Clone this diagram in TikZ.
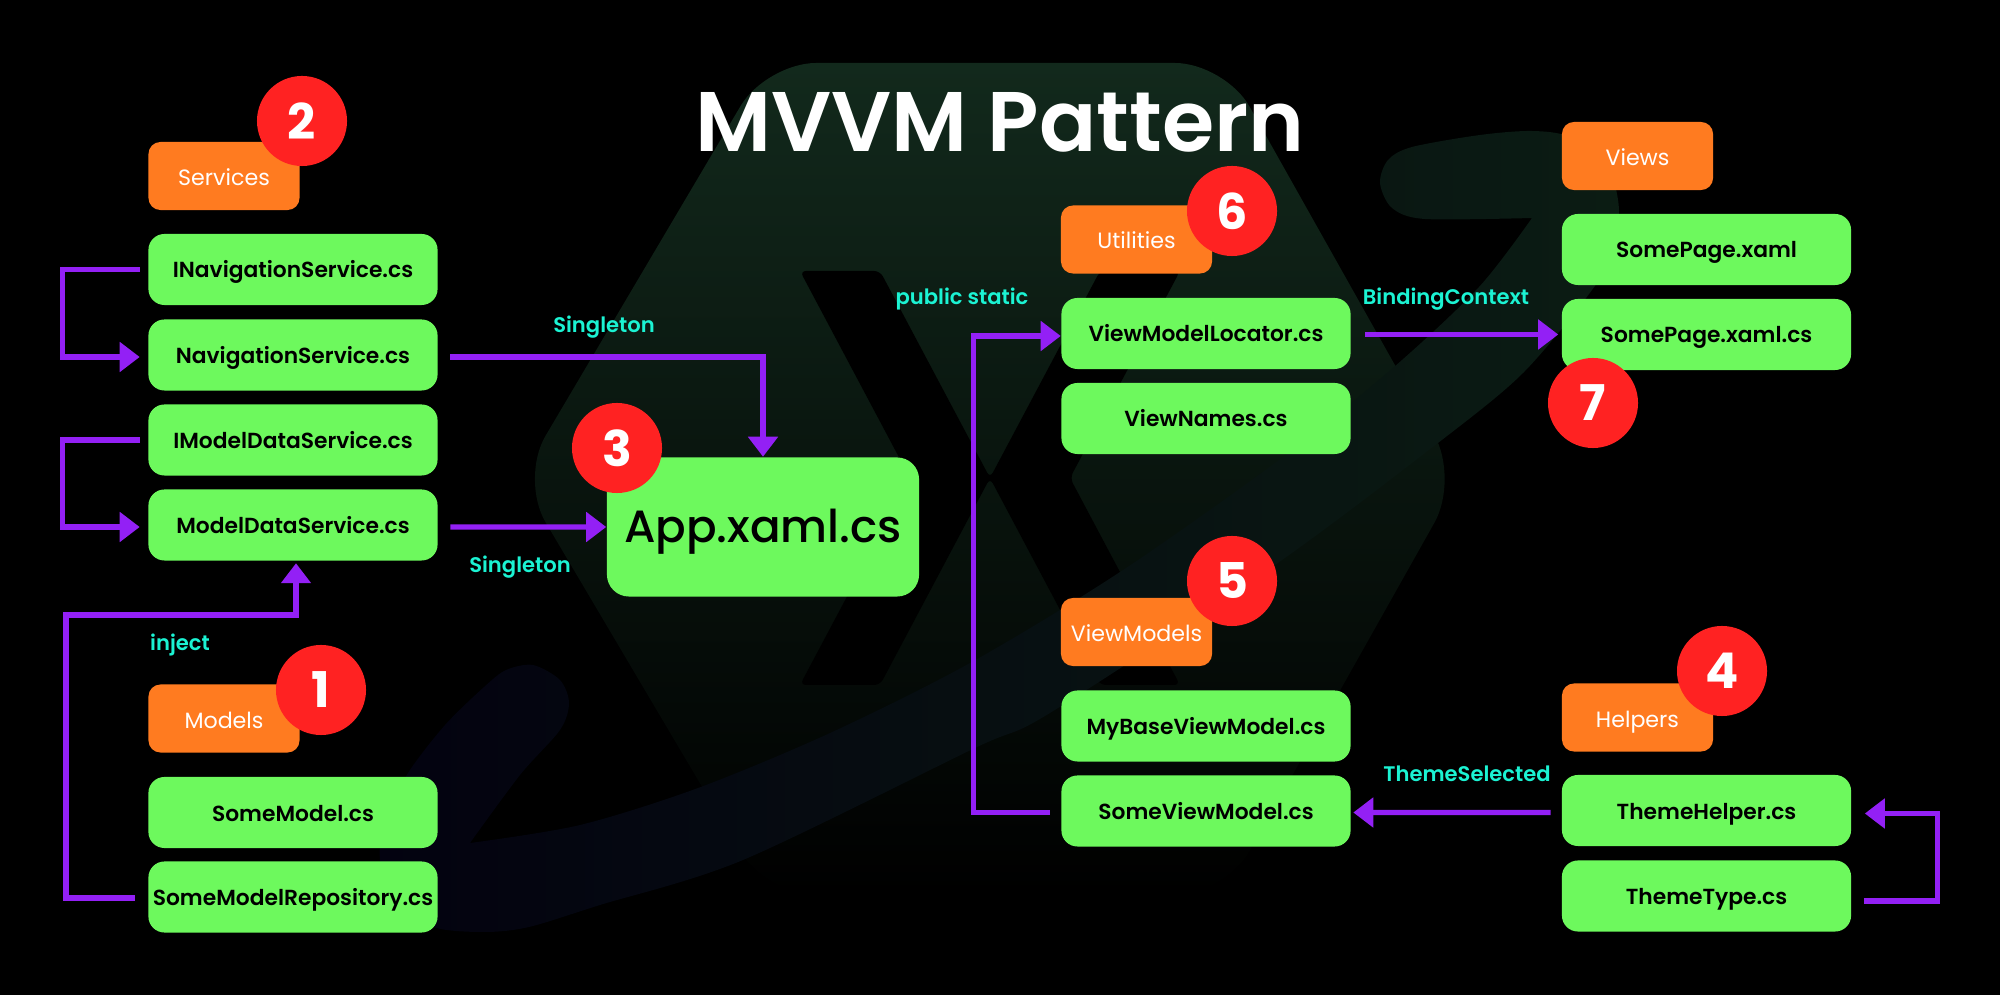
\documentclass[tikz,border=0pt]{standalone}
\usepackage{fontspec}
\usepackage{xcolor}
\usepackage{tikz}
\usetikzlibrary{arrows.meta, calc, shapes.geometric, positioning}
\setmainfont{Poppins}
\newfontfamily\medfont[UprightFont={* Medium}]{Poppins}
\newfontfamily\titlefont[UprightFont={* SemiBold}]{Poppins}

\definecolor{boxgreen}{HTML}{6DF95D}
\definecolor{boxorange}{HTML}{FF7B20}
\definecolor{badgered}{HTML}{FF2222}
\definecolor{flowpurple}{HTML}{9320F5}
\definecolor{tagcyan}{HTML}{1BF3D3}
\definecolor{logotop}{HTML}{12291C}
\definecolor{logomid}{HTML}{0A1A10}
\definecolor{swooshleft}{HTML}{030210}
\definecolor{swooshmid}{HTML}{10261A}
\definecolor{swooshright}{HTML}{0B1C13}

\tikzset{
    filebox/.style={fill=boxgreen, text=black, rounded corners=0.16cm, minimum width=2.89cm, minimum height=0.71cm,
        inner sep=0pt, text height=0.23cm, text depth=0.06cm, font=\titlefont\fontsize{6.2}{9}\selectfont},
    groupbox/.style={fill=boxorange, text=white, rounded corners=0.12cm, minimum width=1.51cm, minimum height=0.68cm,
        inner sep=0pt, text height=0.25cm, text depth=0.06cm, font=\fontsize{6.3}{9}\selectfont},
    badge/.style={circle, fill=badgered, text=white, minimum size=0.9cm, inner sep=0pt, font=\bfseries\fontsize{14}{16}\selectfont},
    tag/.style={text=tagcyan, inner sep=0pt, anchor=base, font=\titlefont\fontsize{6}{9}\selectfont},
    flow/.style={draw=flowpurple, line width=0.052cm, ->}
}

\begin{document}
\begin{tikzpicture}[>={Triangle[length=0.2cm, width=0.29cm]}, x=0.01cm, y=-0.01cm]
    \fill[black] (0,0) rectangle (2000,995);
    \useasboundingbox (0,0) rectangle (2000,995);

    % Logo behind the picture
    \shade[top color=logotop, middle color=logomid, bottom color=black, rounded corners=0.5cm]
        (766,63) -- (1225,63) -- (1459,479) -- (1225,895) -- (766,895) -- (520,479) -- cycle;
    \fill[black, rounded corners=0.06cm]
        (800,271) -- (880,271) -- (990,478) -- (1100,271) -- (1180,271) -- (1070,478)
        -- (1180,685) -- (1100,685) -- (990,478) -- (880,685) -- (800,685) -- (910,478) -- cycle;
    \shade[left color=swooshleft, middle color=swooshmid, right color=swooshright]
        (470,843) -- plot[smooth] coordinates {(470,843) (580,825) (698,788) (830,733) (970,663) (1120,572)
            (1283,457) (1394,367) (1479,287) (1532,218)}
        -- plot[smooth] coordinates {(1532,218) (1425,219) (1392,208) (1380,183) (1388,160) (1412,147) (1480,135)
            (1532,131) (1570,137) (1607,165) (1619,210) (1610,255) (1592,290) (1523,373) (1438,443) (1275,565)
            (1050,713) (975,748) (743,860) (600,905) (529,927) (484,932) (433,927) (395,900) (380,860) (385,820)
            (408,773) (445,725) (484,687) (506,670) (533,665) (560,680) (569,703) (560,730) (520,775) (470,843)}
        -- cycle;

    % Title
    \node[text=white, inner sep=0pt, anchor=base, font=\titlefont\fontsize{24.05}{28}\selectfont] (title) at (1000,152) {MVVM Pattern};

    % Services and models
    \node[groupbox] (services) at (224,176) {Services};
    \node[filebox] (inav) at (293,269.5) {INavigationService.cs};
    \node[filebox] (nav) at (293,355) {NavigationService.cs};
    \node[filebox] (imdata) at (293,440) {IModelDataService.cs};
    \node[filebox] (mdata) at (293,525) {ModelDataService.cs};
    \node[groupbox] (models) at (224,718.5) {Models};
    \node[filebox] (somemodel) at (293,812.5) {SomeModel.cs};
    \node[filebox] (repo) at (293,897) {SomeModelRepository.cs};

    % App
    \node[fill=boxgreen, text=black, rounded corners=0.22cm, minimum width=3.12cm, minimum height=1.39cm, inner sep=0pt,
        text height=0.4cm, text depth=0.1cm, font=\medfont\fontsize{12.85}{16}\selectfont] (app) at (763,527) {App.xaml.cs};

    % View models and utilities
    \node[groupbox] (utilities) at (1136.5,239.5) {Utilities};
    \node[filebox] (locator) at (1206,333.5) {ViewModelLocator.cs};
    \node[filebox] (viewnames) at (1206,418.5) {ViewNames.cs};
    \node[groupbox] (viewmodels) at (1136.5,632) {ViewModels};
    \node[filebox] (basevm) at (1206,726) {MyBaseViewModel.cs};
    \node[filebox] (somevm) at (1206,811) {SomeViewModel.cs};

    % Views and helpers
    \node[groupbox] (views) at (1637.5,156) {Views};
    \node[filebox] (page) at (1706.5,249.5) {SomePage.xaml};
    \node[filebox] (pagecs) at (1706.5,334.5) {SomePage.xaml.cs};
    \node[groupbox] (helpers) at (1637.5,717.5) {Helpers};
    \node[filebox] (thelper) at (1706.5,810.5) {ThemeHelper.cs};
    \node[filebox] (ttype) at (1706.5,896) {ThemeType.cs};

    % Numbers
    \node[badge] (one) at (321,690) {1};
    \node[badge] (two) at (302,121) {2};
    \node[badge] (three) at (617,448) {3};
    \node[badge] (four) at (1722,671) {4};
    \node[badge] (five) at (1232,581) {5};
    \node[badge] (six) at (1232,211) {6};
    \node[badge] (seven) at (1593,403) {7};

    % Connectors
    \coordinate (injectbend) at (66,615);
    \draw[flow, shorten <=0.08cm, shorten >=0.08cm] (inav.west) -- ++(-85,0) |- ([yshift=-0.02cm]nav.west);
    \draw[flow, shorten <=0.08cm, shorten >=0.08cm] (imdata.west) -- ++(-85,0) |- ([yshift=-0.02cm]mdata.west);
    \draw[flow, shorten <=0.13cm, shorten >=0.02cm] ([yshift=-0.01cm]repo.west) -| (injectbend) -| ([xshift=0.03cm]mdata.south);
    \draw[flow, shorten <=0.12cm] ([yshift=-0.02cm]nav.east) -| (app.north);
    \draw[flow, shorten <=0.12cm] ([yshift=-0.02cm]mdata.east) -- (app.west);
    \draw[flow, shorten <=0.11cm] ([yshift=-0.015cm]somevm.west) -- ++(-87,0) |- ([yshift=-0.025cm]locator.west);
    \draw[flow, shorten <=0.14cm, shorten >=0.03cm] ([yshift=-0.01cm]locator.east) -- (pagecs.west);
    \draw[flow, shorten <=0.105cm, shorten >=0.02cm] ([yshift=-0.02cm]thelper.west) -- ([yshift=-0.015cm]somevm.east);
    \draw[flow, shorten <=0.12cm, shorten >=0.13cm] ([yshift=-0.05cm]ttype.east) -- ++(86,0) |- ([yshift=-0.03cm]thelper.east);

    % Labels on the connectors
    \node[tag] (singletonnav) at (604,333) {Singleton};
    \node[tag] (singletonmdata) at (520,573) {Singleton};
    \node[tag] (inject) at (180,651) {inject};
    \node[tag] (publicstatic) at (962,305) {public static};
    \node[tag] (bindingcontext) at (1446,305) {BindingContext};
    \node[tag] (themeselected) at (1467,782) {ThemeSelected};
\end{tikzpicture}
\end{document}
